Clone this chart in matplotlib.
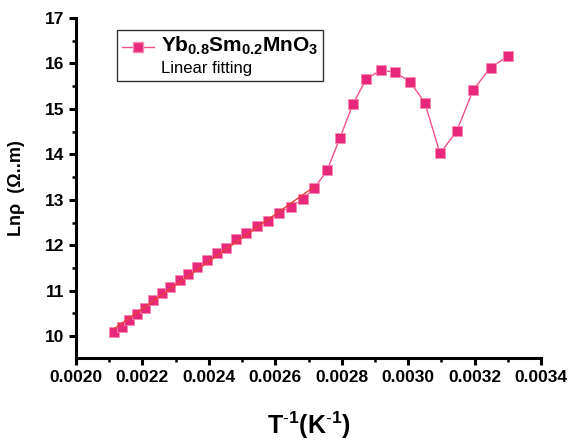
import matplotlib as mpl
import matplotlib.pyplot as plt
import numpy as np
from matplotlib.lines import Line2D
from matplotlib.ticker import MultipleLocator, FormatStrFormatter

# inverse temperature (1/K) and ln(rho)
inv_t = [0.002115, 0.002138, 0.002161, 0.002185, 0.002209, 0.002233, 0.002258,
         0.002284, 0.002312, 0.002338, 0.002365, 0.002393, 0.002423, 0.002452,
         0.002483, 0.002513, 0.002546, 0.002578, 0.002612, 0.002647, 0.002682,
         0.002718, 0.002756, 0.002795, 0.002834, 0.002874, 0.002917, 0.002960,
         0.003005, 0.003050, 0.003096, 0.003146, 0.003196, 0.003248, 0.003301]
ln_rho = [10.09, 10.20, 10.36, 10.48, 10.63, 10.79, 10.94, 11.09, 11.23, 11.37,
          11.52, 11.67, 11.83, 11.95, 12.14, 12.27, 12.43, 12.54, 12.72, 12.85,
          13.01, 13.26, 13.65, 14.37, 15.11, 15.66, 15.85, 15.81, 15.60, 15.14,
          14.02, 14.51, 15.42, 15.91, 16.16]
n_fit = 22  # points used for the linear fit

mpl.rcParams.update({
    "font.family": "sans-serif",
    "font.sans-serif": ["Liberation Sans", "DejaVu Sans"],
    "mathtext.fontset": "custom",
    "mathtext.rm": "Liberation Sans",
    "mathtext.bf": "Liberation Sans:bold",
})

fig = plt.figure(figsize=(5.82, 4.46), dpi=100)
ax = fig.add_axes([0.1306, 0.1973, 0.799, 0.7623])

ax.plot(inv_t, ln_rho, color="#f0508c", lw=1.0, marker="s", ms=7,
        mfc="#e8287a", mec="#f58ab0", mew=0.6, zorder=3)

coef = np.polyfit(inv_t[:n_fit], ln_rho[:n_fit], 1)
xf = np.array([inv_t[0], inv_t[n_fit - 1]])
ax.plot(xf, np.polyval(coef, xf), color="#e8403a", lw=1.0, zorder=4)

ax.set_xlim(0.0020, 0.0034)
ax.set_ylim(9.52, 17)
ax.xaxis.set_major_locator(MultipleLocator(0.0002))
ax.xaxis.set_minor_locator(MultipleLocator(0.0001))
ax.xaxis.set_major_formatter(FormatStrFormatter("%.4f"))
ax.yaxis.set_major_locator(MultipleLocator(1))
ax.yaxis.set_minor_locator(MultipleLocator(0.5))

for s in ["top", "right"]:
    ax.spines[s].set_visible(False)
for s in ["left", "bottom"]:
    ax.spines[s].set_linewidth(2.2)
ax.tick_params(which="major", direction="out", length=5, width=2.2,
               labelsize=12.5)
ax.tick_params(which="minor", direction="out", length=3, width=1.8)
for lab in ax.get_xticklabels() + ax.get_yticklabels():
    lab.set_fontweight("bold")

ax.set_xlabel(r"$\mathbf{T^{\text{-}1}(K^{\text{-}1})}$", fontsize=18,
              labelpad=18)
ax.set_ylabel("Lnρ  (Ω..m)", fontsize=13, fontweight="bold", labelpad=14)

h1 = Line2D([], [], color="#f0508c", lw=1.0, marker="s", ms=7,
            mfc="#e8287a", mec="#f58ab0")
h2 = Line2D([], [], color="none")
leg = ax.legend([h1, h2],
                [r"$\mathbf{Yb_{0.8}Sm_{0.2}MnO_3}$", "Linear fitting"],
                loc="upper left", bbox_to_anchor=(0.074, 0.985),
                fancybox=False, edgecolor="#333333", framealpha=1,
                handlelength=2.3, borderpad=0.35, labelspacing=0.3,
                handletextpad=0.5)
leg.get_frame().set_linewidth(1.0)
leg.get_texts()[0].set_fontsize(15)
leg.get_texts()[1].set_fontsize(12)

fig.savefig("out.png", dpi=100)
